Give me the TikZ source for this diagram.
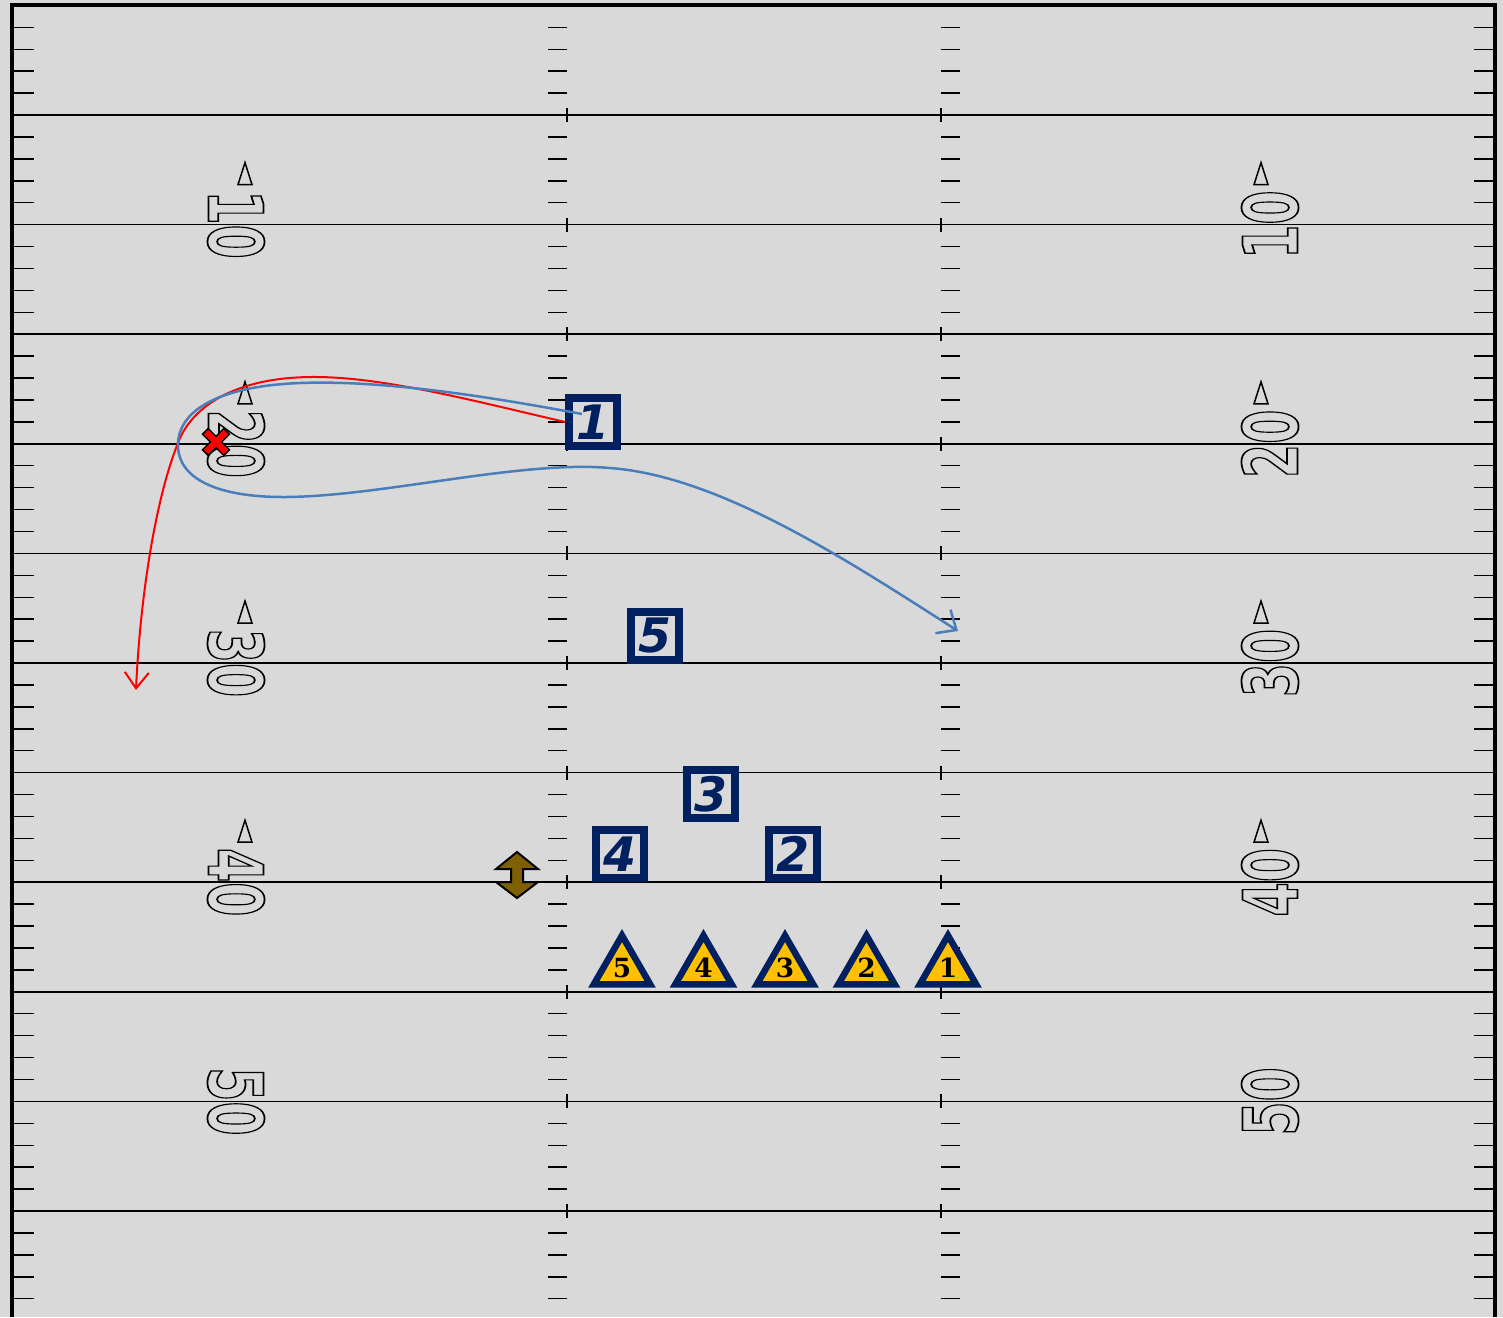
\documentclass[tikz,border=0pt]{standalone}
\usepackage{fontspec}
\newfontfamily\numfont{DejaVu Sans}
\newfontfamily\yardfont{DejaVu Sans}
\newfontfamily\jerseyfont{DejaVu Serif}
\usetikzlibrary{arrows.meta,shapes.geometric,calc}

\definecolor{fieldgray}{HTML}{D9D9D9}
\definecolor{navy}{HTML}{002060}
\definecolor{gold}{HTML}{FFC000}
\definecolor{ballbrown}{HTML}{7F6000}
\definecolor{routeblue}{HTML}{4A7EBB}

% hollow (stroked) digits for the yard numbers
\newcommand{\hollow}[1]{\special{pdf:literal direct 1 Tr 0.5 w}#1\special{pdf:literal direct 0 Tr}}

\begin{document}
\begin{tikzpicture}[x=0.1mm, y=-0.1mm,
    yardline/.style={line width=0.15mm},
    tick/.style={line width=0.15mm},
    border/.style={line width=0.4mm},
    yardnum/.style={font=\yardfont\fontsize{21.5}{21.5}\selectfont\bfseries, inner sep=0pt},
    dirmark/.style={line width=0.15mm},
    defbox/.style={draw=navy, line width=0.8mm, minimum size=4.75mm, inner sep=0pt, text=navy,
      font=\numfont\fontsize{13.5}{13.5}\selectfont\bfseries\itshape},
    offtri/.style={regular polygon, regular polygon sides=3, draw=navy, fill=gold, line width=0.65mm,
      minimum size=6.5mm, inner sep=0pt, font=\jerseyfont\fontsize{7.5}{7.5}\selectfont\bfseries},
    footballshape/.style={fill=ballbrown, draw=black, line width=0.2mm},
    xmark/.style={fill=red, draw=black, line width=0.15mm},
    blueroute/.style={draw=routeblue, line width=0.25mm, -{Straight Barb[length=1.6mm,width=2.8mm]}},
    redroute/.style={draw=red, line width=0.2mm, -{Straight Barb[length=1.6mm,width=2.4mm]}}]

  \useasboundingbox (0,0) rectangle (1503,1317);
  \fill[fieldgray] (0,0) rectangle (1503,1317);

  % yard lines, hashes and side ticks
  \foreach \k in {1,...,59}{
    \pgfmathsetmacro\yy{5.4+21.92*\k}
    \pgfmathtruncatemacro\rem{mod(\k,5)}
    \ifnum\rem=0
      \draw[yardline] (12,\yy) -- (1495,\yy);
      \draw[yardline] (567,{\yy-7}) -- (567,{\yy+7});
      \draw[yardline] (941,{\yy-7}) -- (941,{\yy+7});
    \else
      \draw[tick] (14,\yy) -- (34,\yy);
      \draw[tick] (548,\yy) -- (567,\yy);
      \draw[tick] (941,\yy) -- (960,\yy);
      \draw[tick] (1474,\yy) -- (1494,\yy);
    \fi
  }

  % yard numbers
  \foreach \k in {10,20,30,40,50}{
    \pgfmathsetmacro\yy{5.4+21.92*\k}
    \node[yardnum, rotate=-90] (yl\k) at (236,\yy) {\scalebox{0.65}[1]{\hollow{\k}}};
    \node[yardnum, rotate=90] (yr\k) at (1270,\yy) {\scalebox{0.65}[1]{\hollow{\k}}};
  }
  \foreach \k in {10,20,30,40}{
    \pgfmathsetmacro\yy{5.4+21.92*\k}
    \draw[dirmark] (245,{\yy-62}) -- (252,{\yy-40}) -- (238,{\yy-40}) -- cycle;
    \draw[dirmark] (1261,{\yy-62}) -- (1268,{\yy-40}) -- (1254,{\yy-40}) -- cycle;
  }

  % sideline and goal line
  \draw[border] (12,1317) -- (12,5) -- (1495,5) -- (1495,1317);

  % defense
  \node[defbox] (d1) at (593,422) {1};
  \node[defbox] (d5) at (655,636) {5};
  \node[defbox] (d3) at (711,794) {3};
  \node[defbox] (d4) at (620,854) {4};
  \node[defbox] (d2) at (793,854) {2};

  % offense
  \node[offtri] (o5) at (622,968) {5};
  \node[offtri] (o4) at (703.5,968) {4};
  \node[offtri] (o3) at (785,968) {3};
  \node[offtri] (o2) at (866.5,968) {2};
  \node[offtri] (o1) at (948,968) {1};

  % ball
  \coordinate (ball) at (517,875);
  \draw[footballshape, shift={(ball)}] (0,-23) -- (21,-6) -- (6,-6) -- (6,7) -- (21,7) -- (0,23)
    -- (-21,7) -- (-6,7) -- (-6,-6) -- (-21,-6) -- cycle;

  % tackle mark
  \coordinate (tackle) at (216,442);
  \draw[xmark, shift={(tackle)}, rotate=45] (4,4) -- (15,4) -- (15,-4) -- (4,-4) -- (4,-15) -- (-4,-15)
    -- (-4,-4) -- (-15,-4) -- (-15,4) -- (-4,4) -- (-4,15) -- (4,15) -- cycle;

  % routes
  \coordinate (blueend) at (958,631);
  \coordinate (redend) at (136,690);
  \draw[redroute] (d1.west) .. controls (470,400) and (380,376) .. (310,377)
    .. controls (230,378) and (190,410) .. (178,443)
    .. controls (155,500) and (140,600) .. (redend);
  \draw[blueroute] ($(d1)+(-11,-8)$) .. controls (480,395) and (380,380) .. (300,383)
    .. controls (220,386) and (178,410) .. (178,445)
    .. controls (178,480) and (220,497) .. (283,497)
    .. controls (380,497) and (520,460) .. (610,468)
    .. controls (720,476) and (850,562) .. (blueend);
\end{tikzpicture}
\end{document}
